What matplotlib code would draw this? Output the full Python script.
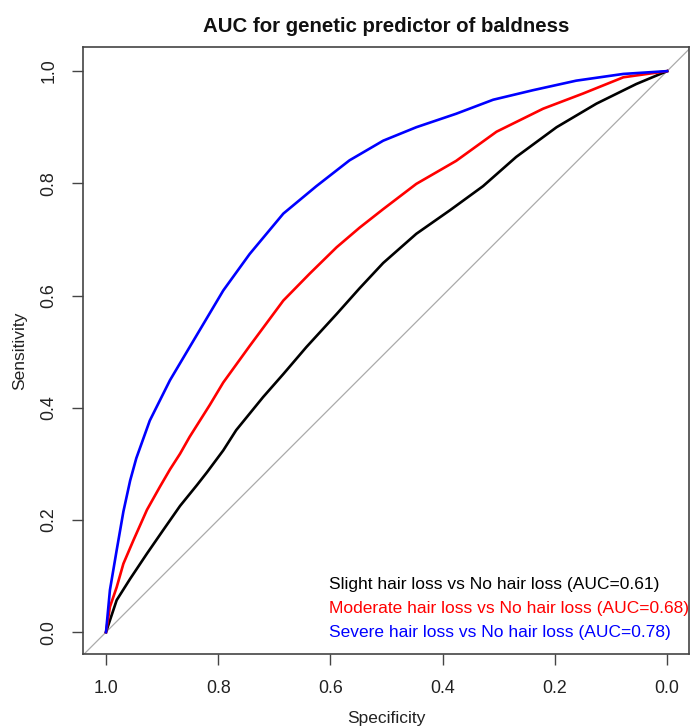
import matplotlib
matplotlib.use("Agg")
import matplotlib.pyplot as plt

plt.rcParams['font.family'] = ['Liberation Sans', 'DejaVu Sans']

title = "AUC for genetic predictor of baldness"
xlabel = "Specificity"
ylabel = "Sensitivity"
ticks = [1.0, 0.8, 0.6, 0.4, 0.2, 0.0]
tick_labels = ["1.0", "0.8", "0.6", "0.4", "0.2", "0.0"]

slight_spec = [1.0, 0.996, 0.981, 0.957, 0.927, 0.898, 0.868, 0.838, 0.820, 0.791, 0.768,
               0.720, 0.684, 0.643, 0.589, 0.548, 0.506, 0.447, 0.387, 0.328, 0.269,
               0.197, 0.126, 0.055, 0.0]
slight_sens = [0.0, 0.012, 0.057, 0.095, 0.140, 0.182, 0.225, 0.262, 0.285, 0.324, 0.360,
               0.419, 0.460, 0.508, 0.567, 0.613, 0.658, 0.710, 0.752, 0.795, 0.847,
               0.900, 0.942, 0.977, 1.0]

moderate_spec = [1.0, 0.993, 0.981, 0.969, 0.951, 0.927, 0.904, 0.886, 0.868, 0.851, 0.815,
                 0.791, 0.744, 0.684, 0.637, 0.589, 0.548, 0.506, 0.447, 0.376, 0.304,
                 0.221, 0.150, 0.078, 0.0]
moderate_sens = [0.0, 0.045, 0.080, 0.122, 0.164, 0.218, 0.259, 0.290, 0.318, 0.348, 0.405,
                 0.445, 0.510, 0.591, 0.639, 0.686, 0.721, 0.754, 0.799, 0.840, 0.892,
                 0.933, 0.960, 0.989, 1.0]

severe_spec = [1.0, 0.993, 0.981, 0.969, 0.957, 0.946, 0.922, 0.886, 0.851, 0.791, 0.744,
               0.684, 0.625, 0.566, 0.506, 0.447, 0.376, 0.310, 0.239, 0.162, 0.078, 0.0]
severe_sens = [0.0, 0.075, 0.146, 0.215, 0.270, 0.310, 0.377, 0.449, 0.508, 0.609, 0.674,
               0.746, 0.795, 0.841, 0.876, 0.900, 0.924, 0.949, 0.966, 0.983, 0.995, 1.0]

labels = ["Slight hair loss vs No hair loss (AUC=0.61)",
          "Moderate hair loss vs No hair loss (AUC=0.68)",
          "Severe hair loss vs No hair loss (AUC=0.78)"]
colors = ["#000000", "#ff0000", "#0000ff"]

W, H = 690, 727
fig = plt.figure(figsize=(W / 100, H / 100), dpi=100)
L, R, T, B = 83, 689, 47, 654
ax = fig.add_axes([L / W, 1 - B / H, (R - L) / W, (B - T) / H])

ax.axline((1, 0), (0, 1), color="#aaaaaa", lw=0.9, zorder=1)
series = [(slight_spec, slight_sens), (moderate_spec, moderate_sens), (severe_spec, severe_sens)]
for (sx, sy), c in zip(series, colors):
    ax.plot(sx, sy, color=c, lw=1.9, zorder=2, solid_joinstyle='round')

ax.set_xlim(1.041, -0.039)
ax.set_ylim(-0.039, 1.043)
ax.set_xticks(ticks)
ax.set_xticklabels(tick_labels)
ax.set_yticks(ticks)
ax.set_yticklabels(tick_labels, rotation=90, va='center')

for s in ax.spines.values():
    s.set_color("#444444")
    s.set_linewidth(1.2)
ax.tick_params(axis='both', direction='out', length=8, width=1.0, color="#444444",
               labelsize=12.8, labelcolor="#222222", pad=10.5)

ax.set_xlabel(xlabel, fontsize=12.5, color="#222222")
ax.set_ylabel(ylabel, fontsize=12.5, color="#222222")
ax.xaxis.set_label_coords(0.5, -(718 - B) / (B - T), transform=ax.transAxes)
ax.yaxis.set_label_coords(-(L - 20) / (R - L), 0.5, transform=ax.transAxes)
for lab in [ax.xaxis.label, ax.yaxis.label]:
    lab.set_va('center')

fig.text(386 / W, 1 - 27 / H, title, ha='center', va='center', fontsize=14.7,
         fontweight='bold', color="#111111")

for i, (lab, c) in enumerate(zip(labels, colors)):
    fig.text(329 / W, 1 - (584 + 24 * i) / H, lab, color=c, ha='left', va='center',
             fontsize=12.5)

fig.savefig("out.png", dpi=100)
